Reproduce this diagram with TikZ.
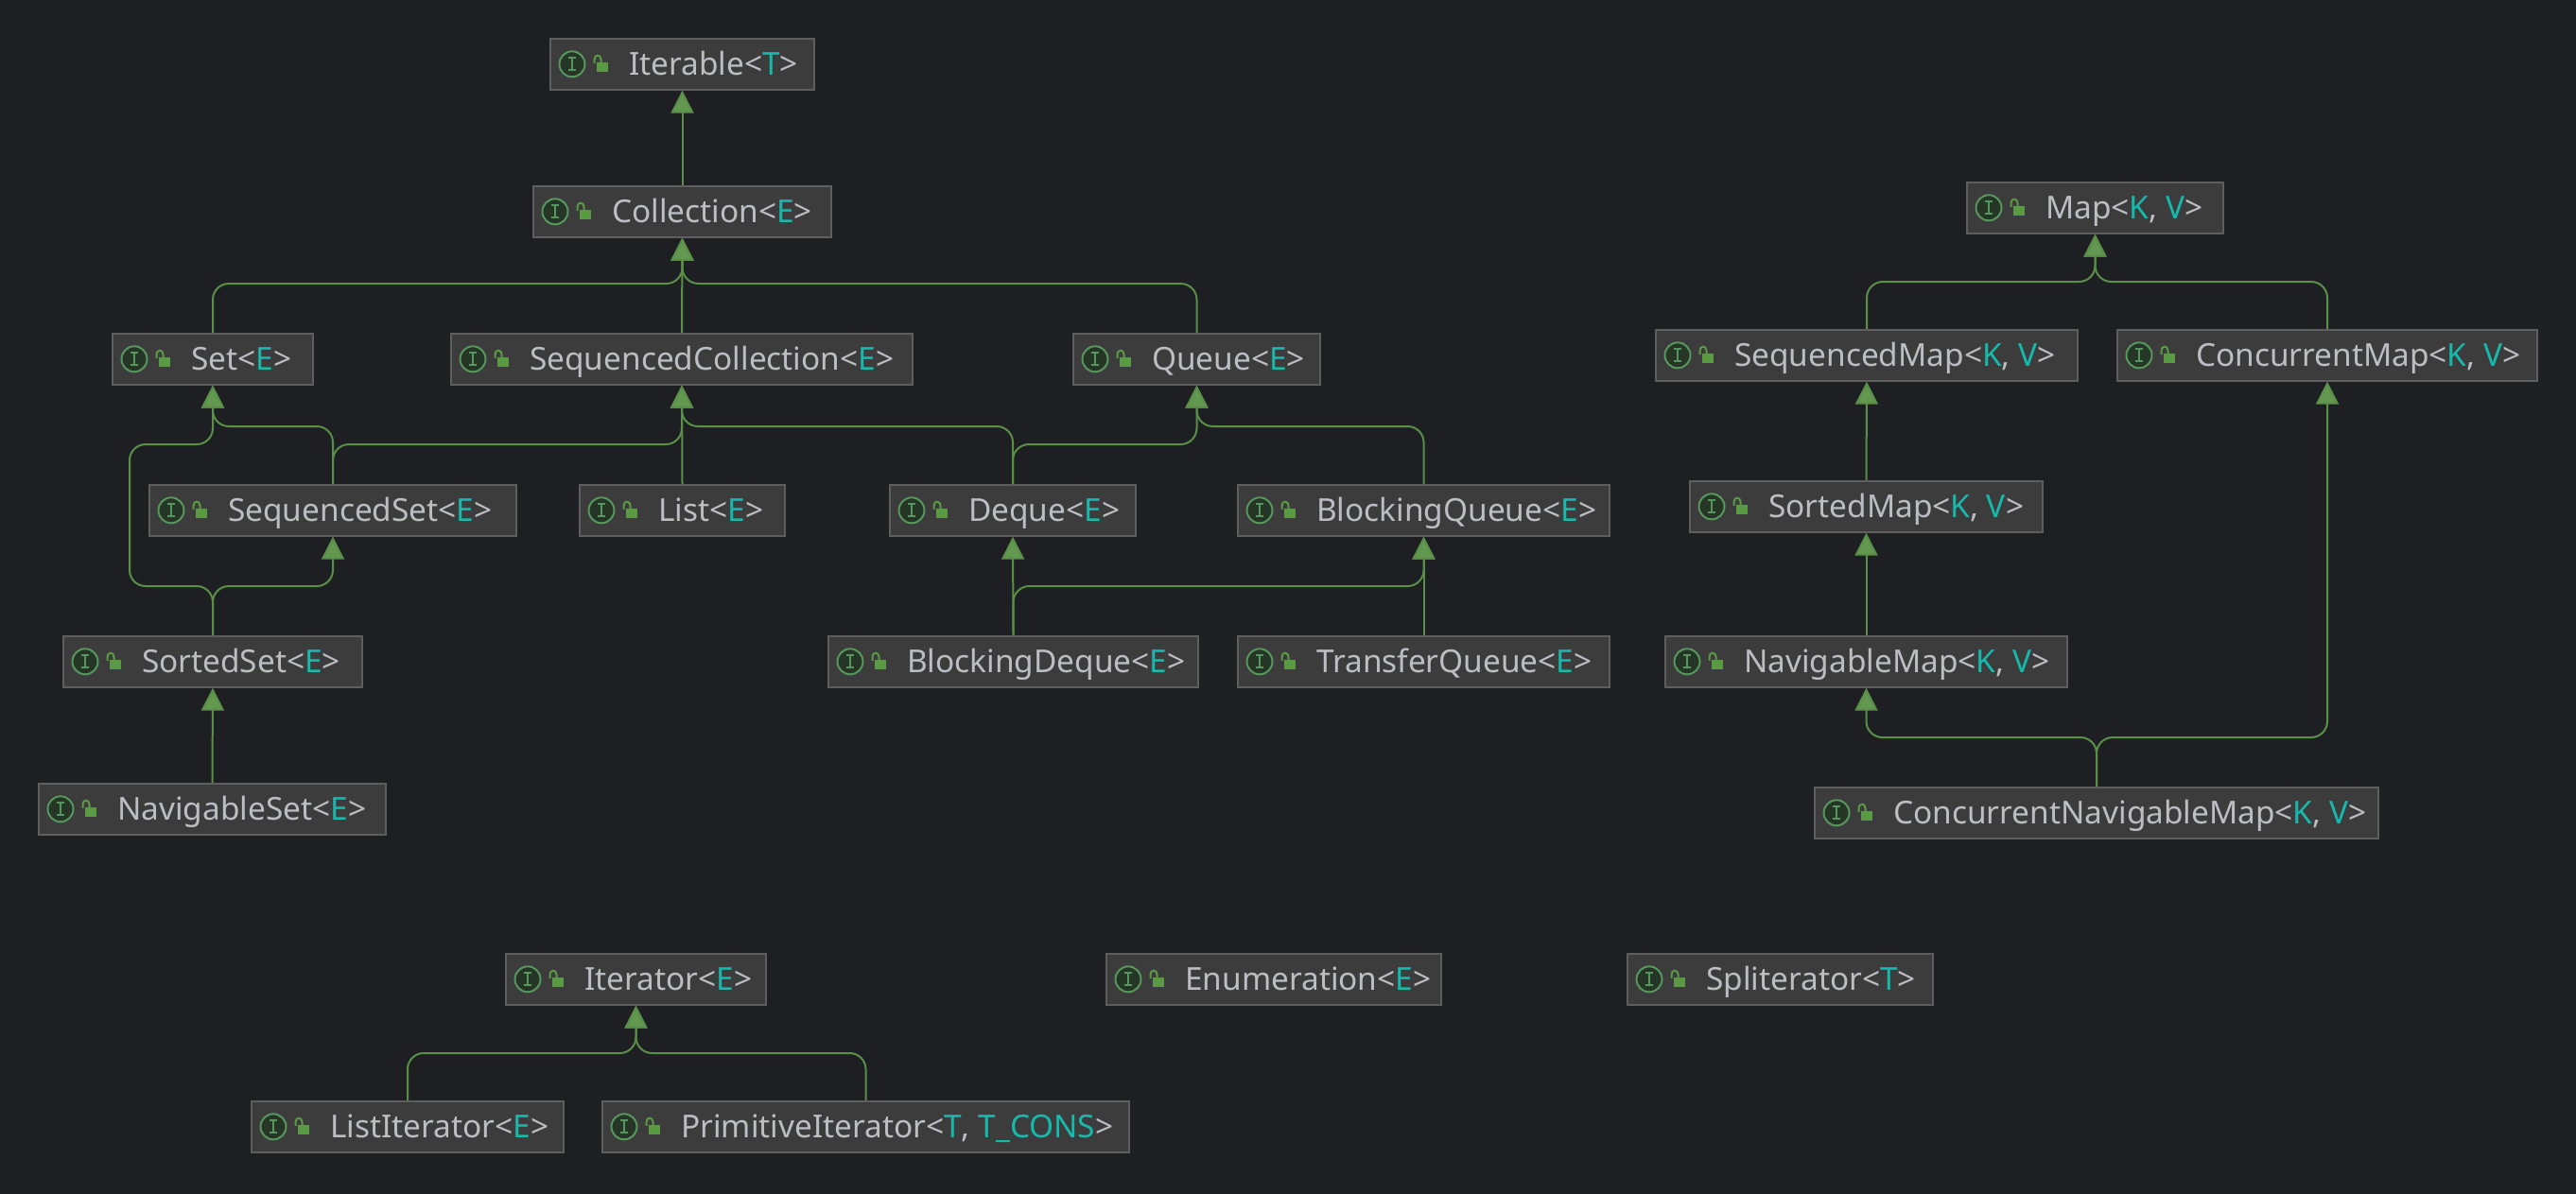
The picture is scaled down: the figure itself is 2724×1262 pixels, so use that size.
\documentclass[tikz,border=0pt]{standalone}
\usepackage{fontspec}
\setmainfont{Noto Sans}
\usetikzlibrary{arrows.meta}
\definecolor{canvas}{HTML}{1E1F22}
\definecolor{boxfill}{HTML}{3C3C3C}
\definecolor{boxline}{HTML}{5E5E5E}
\definecolor{labelgray}{HTML}{BCBEC4}
\definecolor{typevar}{HTML}{16BAAC}
\definecolor{edgegreen}{HTML}{5A8F48}
\definecolor{tipgreen}{HTML}{62984F}
\definecolor{ringgreen}{HTML}{57965C}
\definecolor{ringfill}{HTML}{253627}
\definecolor{lockgreen}{HTML}{5A9A42}
\newcommand{\tv}[1]{\textcolor{typevar}{#1}}
\tikzset{
  ifacebox/.style={draw=boxline, fill=boxfill, line width=1.6pt, minimum height=54pt, inner sep=0pt},
  ifacetext/.style={anchor=base west, inner sep=0pt, text=labelgray, font=\fontsize{33.4}{38}\selectfont},
  edge/.style={draw=edgegreen, line width=2pt, rounded corners=17pt, -{Triangle[length=24pt, width=24pt, fill=tipgreen]}}
}
\begin{document}
\begin{tikzpicture}[x=1pt, y=-1pt]
  \useasboundingbox (0,0) rectangle (2724,1262);
  \fill[canvas] (-4,-4) rectangle (2728,1266);
  \foreach \name/\label/\xa/\xb/\yt in {
    iterable/{Iterable<\tv{T}>}/581/862/40,
    collection/{Collection<\tv{E}>}/563/880/196,
    set/{Set<\tv{E}>}/118/332/352,
    seqcoll/{SequencedCollection<\tv{E}>}/476/966/352,
    queue/{Queue<\tv{E}>}/1134/1397/352,
    seqset/{SequencedSet<\tv{E}>}/157/547/512,
    list/{List<\tv{E}>}/612/831/512,
    deque/{Deque<\tv{E}>}/940/1202/512,
    blockqueue/{BlockingQueue<\tv{E}>}/1308/1703/512,
    sortedset/{SortedSet<\tv{E}>}/66/384/672,
    blockdeque/{BlockingDeque<\tv{E}>}/875/1268/672,
    transfer/{TransferQueue<\tv{E}>}/1308/1703/672,
    navset/{NavigableSet<\tv{E}>}/40/409/828,
    map/{Map<\tv{K}, \tv{V}>}/2079/2352/192,
    seqmap/{SequencedMap<\tv{K}, \tv{V}>}/1750/2198/348,
    concmap/{ConcurrentMap<\tv{K}, \tv{V}>}/2238/2684/348,
    sortedmap/{SortedMap<\tv{K}, \tv{V}>}/1786/2161/508,
    navmap/{NavigableMap<\tv{K}, \tv{V}>}/1760/2187/672,
    concnav/{ConcurrentNavigableMap<\tv{K}, \tv{V}>}/1918/2516/832,
    iterator/{Iterator<\tv{E}>}/534/811/1008,
    enumeration/{Enumeration<\tv{E}>}/1169/1525/1008,
    spliterator/{Spliterator<\tv{T}>}/1720/2045/1008,
    listiter/{ListIterator<\tv{E}>}/265/597/1164,
    primiter/{PrimitiveIterator<\tv{T}, \tv{T\_CONS}>}/636/1195/1164} {
    \node[ifacebox, anchor=north west, minimum width={(\xb-\xa-1.6)*1pt}] (\name) at (\xa,\yt) {};
    \node[ifacetext] (\name-text) at ([shift={(84,12)}]\name.west) {\label};
    \begin{scope}[shift={(\name.west)}]
      \draw[ringgreen, fill=ringfill, line width=2pt] (24,0) circle (13.5);
      \draw[ringgreen, line width=1.8pt] (20,-6.5) -- (28,-6.5) (24,-6.5) -- (24,6.5) (20,6.5) -- (28,6.5);
      \fill[lockgreen] (50,-2) rectangle (62,8);
      \draw[lockgreen, line width=2pt] (47.5,-1) -- (47.5,-5) .. controls (47.5,-10.5) and (54.5,-10.5) .. (54.5,-5) -- (54.5,-2);
    \end{scope}
  }
  \foreach \from/\to in {collection/iterable, seqcoll/collection, list/seqcoll,
    sortedmap/seqmap, navmap/sortedmap, navset/sortedset, blockdeque/deque, transfer/blockqueue}
    \draw[edge] (\from.north) -- (\to.south);
  \foreach \from/\to/\ymid in {set/collection/300, queue/collection/300,
    seqset/set/451, seqset/seqcoll/470, sortedset/seqset/620,
    deque/seqcoll/451, deque/queue/470, blockqueue/queue/451, blockdeque/blockqueue/620,
    seqmap/map/298, concmap/map/298, concnav/navmap/780, concnav/concmap/780,
    listiter/iterator/1114, primiter/iterator/1114}
    \draw[edge] (\from.north) -- (\from.north |- 0,\ymid) -- (\to.south |- 0,\ymid) -- (\to.south);
  \coordinate (setleft) at (137,470);
  \coordinate (setlow) at (137,620);
  \draw[edge] (sortedset.north) -- (sortedset.north |- setlow) -- (setlow) -- (setleft) -- (set.south |- setleft) -- (set.south);
\end{tikzpicture}
\end{document}
